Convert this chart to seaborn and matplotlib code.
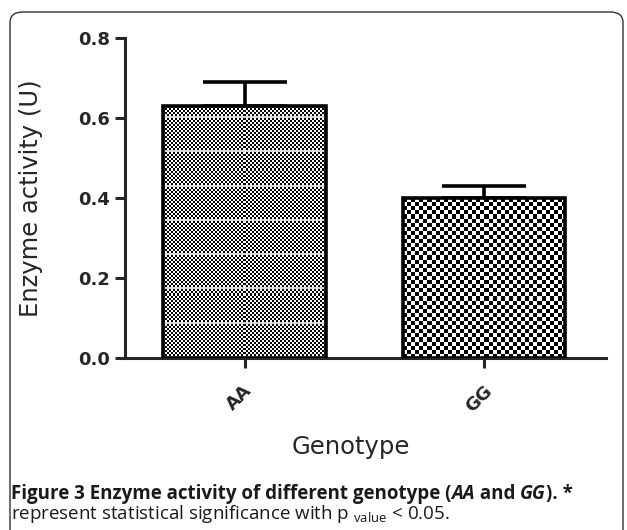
import numpy as np
import pandas as pd
import matplotlib
matplotlib.use("Agg")
import matplotlib.pyplot as plt
from matplotlib.patches import FancyBboxPatch
from matplotlib.transforms import ScaledTranslation
import seaborn as sns

# data
genotypes = ["AA", "GG"]
activity = [0.63, 0.40]
sem = [0.06, 0.03]
yticks = [0.0, 0.2, 0.4, 0.6, 0.8]

sns.set_style("ticks")
plt.rcParams["font.family"] = ["DejaVu Sans"]
plt.rcParams["mathtext.fontset"] = "custom"
plt.rcParams["mathtext.rm"] = "Open Sans"

W, H = 627, 530
fig = plt.figure(figsize=(W / 100, H / 100), dpi=100)
fig.patch.set_facecolor("white")

# rounded frame around figure + caption
frame = FancyBboxPatch((10 / W, -0.05), 613 / W, 1.05 - 12 / H,
                       boxstyle="round,pad=0,rounding_size=0.02",
                       transform=fig.transFigure, fill=False,
                       edgecolor="#333333", linewidth=1.0)
fig.patches.append(frame)

ax = fig.add_axes([125 / W, 1 - 358 / H, (606 - 125) / W, (358 - 38) / H])

df = pd.DataFrame({"Genotype": genotypes, "Activity": activity})
sns.barplot(data=df, x="Genotype", y="Activity", errorbar=None, width=0.68,
            color="white", ax=ax)

ax.set_xlim(-0.5, 1.51)
ax.set_ylim(0, 0.8)

# upper-only error bars
ax.errorbar(range(len(genotypes)), activity, yerr=[[0] * len(sem), sem],
            fmt="none", ecolor="black", elinewidth=2.6, capsize=30,
            capthick=2.6, zorder=1)

# checkerboard fills, clipped to each bar
fig.canvas.draw()
cells = [2, 4]
for p, c in zip(list(ax.patches), cells):
    x0, w, h = p.get_x(), p.get_width(), p.get_height()
    (px0, py0), (px1, py1) = ax.transData.transform([(x0, 0), (x0 + w, h)])
    nx, ny = int(abs(px1 - px0) / c), int(abs(py1 - py0) / c)
    tex = (np.add.outer(np.arange(ny), np.arange(nx)) % 2).astype(float)
    if c == 2:
        rows = np.arange(ny) * c
        tex[(rows % 34) < 2, :] = 0.85
    im = ax.imshow(tex, cmap="gray", vmin=0, vmax=1, origin="lower",
                   extent=(x0, x0 + w, 0, h), interpolation="nearest",
                   aspect="auto", zorder=2)
    im.set_clip_path(p)
    p.set_facecolor("none")
    p.set_edgecolor("black")
    p.set_linewidth(2.6)
    p.set_zorder(3)

ax.set_xlim(-0.5, 1.51)
ax.set_ylim(0, 0.8)
ax.set_aspect("auto")

sns.despine(ax=ax)
for s in ["left", "bottom"]:
    ax.spines[s].set_linewidth(2.2)
ax.tick_params(axis="both", width=2.2, length=7, direction="out")
ax.set_yticks(yticks)
ax.set_yticklabels([f"{v:.1f}" for v in yticks], fontsize=13, fontweight="bold")
ax.set_xticks(range(len(genotypes)))
ax.set_xticklabels(genotypes, fontsize=13, fontweight="bold", rotation=45,
                   ha="center")
off = ScaledTranslation(-5 / 100, -9 / 100, fig.dpi_scale_trans)
for lab in ax.get_xticklabels():
    lab.set_transform(lab.get_transform() + off)

ax.set_ylabel("Enzyme activity (U)", fontsize=17.5)
ax.yaxis.set_label_coords(-0.17, 0.5)
ax.set_xlabel("Genotype", fontsize=17.5)
ax.xaxis.set_label_coords((351 - 125) / 481, -(447 - 358) / 320)
ax.xaxis.label.set_va("center")
ax.set_facecolor("none")

# caption, built from pieces so AA / GG can be italic
cap1 = [("Figure 3 Enzyme activity of different genotype (", "normal"),
        ("AA", "italic"), (" and ", "normal"), ("GG", "italic"), ("). *", "normal")]
r = fig.canvas.get_renderer()
x = 11
for txt, st in cap1:
    t = fig.text(x / W, 1 - 499 / H, txt, fontsize=13.5, fontweight="bold",
                 style=st, family="Open Sans", va="baseline", color="#1a1a1a")
    x += t.get_window_extent(renderer=r).width

fig.text(11 / W, 1 - 519 / H,
         r"represent statistical significance with p ${}_{\mathrm{value}}$ < 0.05.",
         fontsize=13.5, family="Open Sans", va="baseline", color="#1a1a1a")

fig.savefig("out.png", dpi=100)
